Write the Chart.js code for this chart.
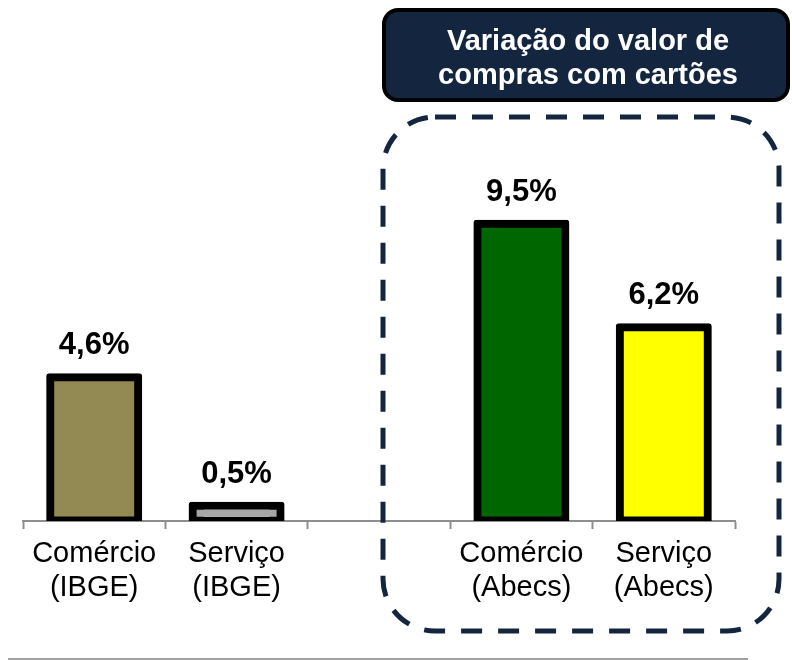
<!DOCTYPE html>
<html>
<head>
<meta charset="utf-8">
<script src="https://cdn.jsdelivr.net/npm/chart.js@4/dist/chart.umd.min.js"></script>
<style>
  html, body { margin: 0; padding: 0; background: #fff; }
  #wrap { width: 792px; height: 660px; position: relative; }
</style>
</head>
<body>
<div id="wrap"><canvas id="chart" width="792" height="660"></canvas></div>
<script>
// chart data
const categories = [
  ['Comércio', '(IBGE)'],
  ['Serviço', '(IBGE)'],
  ['', ''],
  ['Comércio', '(Abecs)'],
  ['Serviço', '(Abecs)']
];
const values = [4.6, 0.5, null, 9.5, 6.2];
const valueLabels = ['4,6%', '0,5%', '', '9,5%', '6,2%'];
const barColors = ['#938953', '#A6A6A6', '#ffffff', '#006600', '#FFFF00'];
const boxTitle = ['Variação do valor de', 'compras com cartões'];

const FONT = 'Arial, "Liberation Sans", sans-serif';
const NAVY = '#14263F';

// value labels above bars
const valueLabelPlugin = {
  id: 'valueLabels',
  afterDatasetsDraw(chart) {
    const ctx = chart.ctx;
    const meta = chart.getDatasetMeta(0);
    ctx.save();
    ctx.font = 'bold 31px ' + FONT;
    ctx.fillStyle = '#000';
    ctx.textAlign = 'center';
    ctx.textBaseline = 'middle';
    meta.data.forEach((bar, i) => {
      if (values[i] == null) return;
      ctx.fillText(valueLabels[i], bar.x, bar.y - 31);
    });
    ctx.restore();
  }
};

// title box, dashed frame, bottom rule
const decorPlugin = {
  id: 'decor',
  afterDraw(chart) {
    const ctx = chart.ctx;
    ctx.save();

    // dashed frame round the Abecs bars
    ctx.strokeStyle = NAVY;
    ctx.lineWidth = 5;
    ctx.setLineDash([21, 16]);
    ctx.beginPath();
    ctx.roundRect(383, 117, 396, 514, 52);
    ctx.stroke();
    ctx.setLineDash([]);

    // title box
    ctx.beginPath();
    ctx.roundRect(384, 10, 404, 90, 14);
    ctx.fillStyle = NAVY;
    ctx.fill();
    ctx.lineWidth = 4;
    ctx.strokeStyle = '#000';
    ctx.stroke();

    ctx.fillStyle = '#fff';
    ctx.font = 'bold 29px ' + FONT;
    ctx.textAlign = 'center';
    ctx.textBaseline = 'alphabetic';
    ctx.fillText(boxTitle[0], 588, 50);
    ctx.fillText(boxTitle[1], 588, 84);

    // bottom rule
    ctx.strokeStyle = '#808080';
    ctx.lineWidth = 1.5;
    ctx.beginPath();
    ctx.moveTo(8, 659);
    ctx.lineTo(748, 659);
    ctx.stroke();

    ctx.restore();
  }
};

new Chart(document.getElementById('chart'), {
  type: 'bar',
  data: {
    labels: categories,
    datasets: [{
      data: values,
      backgroundColor: barColors,
      borderColor: '#000',
      borderWidth: 8,
      borderSkipped: false,
      borderRadius: 3,
      inflateAmount: 3.5,
      barPercentage: 0.625,
      categoryPercentage: 1
    }]
  },
  options: {
    responsive: false,
    animation: false,
    layout: { padding: { top: 145, left: 23, right: 57, bottom: 55 } },
    plugins: {
      legend: { display: false },
      tooltip: { enabled: false }
    },
    scales: {
      x: {
        offset: true,
        grid: {
          offset: true,
          drawOnChartArea: false,
          drawTicks: true,
          tickLength: 8,
          tickWidth: 2,
          color: '#8E8E8E'
        },
        border: { display: true, color: '#8E8E8E', width: 2 },
        ticks: {
          color: '#000',
          padding: 8,
          maxRotation: 0,
          autoSkip: false,
          font: { family: FONT, size: 29, lineHeight: '34px' }
        },
        afterFit(scale) { scale.height = 84; }
      },
      y: {
        display: false,
        min: 0,
        max: 12
      }
    }
  },
  plugins: [valueLabelPlugin, decorPlugin]
});
</script>
</body>
</html>
